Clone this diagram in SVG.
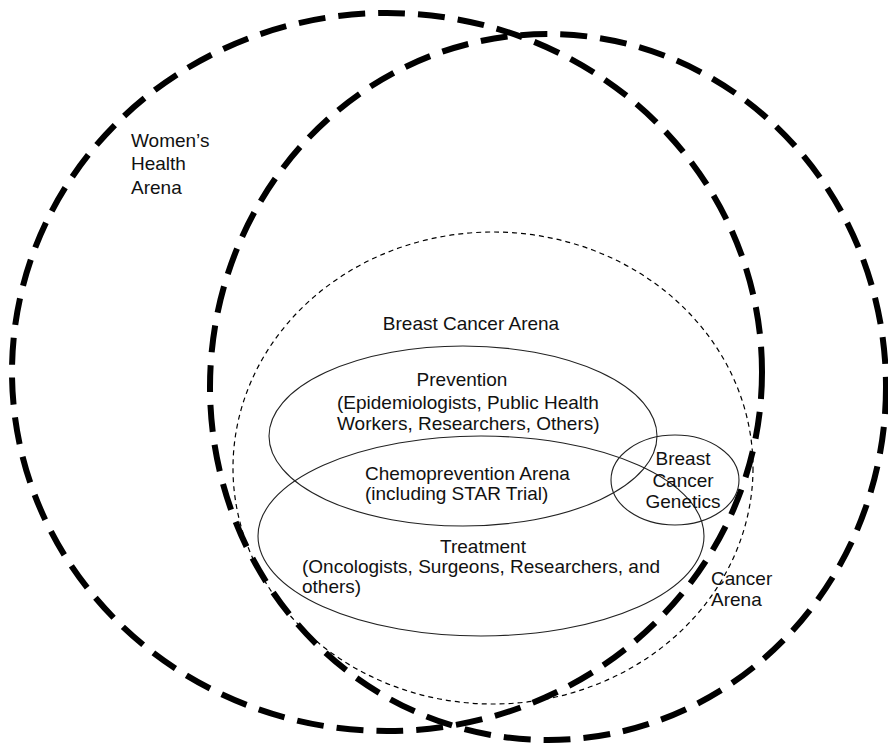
<svg xmlns="http://www.w3.org/2000/svg" width="888" height="746" viewBox="0 0 888 746">
  <style>
    .big { fill: none; stroke: #000; stroke-width: 6; stroke-dasharray: 27 13; }
    .thin-dash { fill: none; stroke: #000; stroke-width: 1.2; stroke-dasharray: 5 4; }
    .thin { fill: none; stroke: #222; stroke-width: 1.1; }
    text { font-family: "Liberation Sans", Arial, sans-serif; font-size: 19px; fill: #111; }
    .mid { text-anchor: middle; }
  </style>
  <rect x="0" y="0" width="888" height="746" fill="#fff"/>
  <g id="womens-health-arena">
    <ellipse class="big" cx="387" cy="372" rx="375" ry="359"/>
    <text x="131" y="147">Women’s</text>
    <text x="131" y="170">Health</text>
    <text x="131" y="194">Arena</text>
  </g>
  <g id="cancer-arena">
    <ellipse class="big" cx="548" cy="387" rx="338" ry="353"/>
    <text x="711" y="585">Cancer</text>
    <text x="711" y="606">Arena</text>
  </g>
  <g id="breast-cancer-arena">
    <ellipse class="thin-dash" cx="493" cy="468" rx="260" ry="236"/>
    <text class="mid" x="471" y="330">Breast Cancer Arena</text>
  </g>
  <g id="prevention">
    <ellipse class="thin" cx="463" cy="436" rx="194" ry="90"/>
    <text class="mid" x="462" y="386">Prevention</text>
    <text x="337" y="409">(Epidemiologists, Public Health</text>
    <text x="337" y="430">Workers, Researchers, Others)</text>
  </g>
  <g id="treatment">
    <ellipse class="thin" cx="481" cy="536" rx="223" ry="100"/>
    <text class="mid" x="483" y="553">Treatment</text>
    <text x="302" y="573">(Oncologists, Surgeons, Researchers, and</text>
    <text x="302" y="593">others)</text>
  </g>
  <g id="chemoprevention-arena">
    <text x="365" y="480">Chemoprevention Arena</text>
    <text x="365" y="500">(including STAR Trial)</text>
  </g>
  <g id="breast-cancer-genetics">
    <ellipse class="thin" cx="675" cy="480" rx="64" ry="45"/>
    <text class="mid" x="683" y="465">Breast</text>
    <text class="mid" x="683" y="487">Cancer</text>
    <text class="mid" x="683" y="508">Genetics</text>
  </g>
  <g id="connectors"></g>
</svg>
